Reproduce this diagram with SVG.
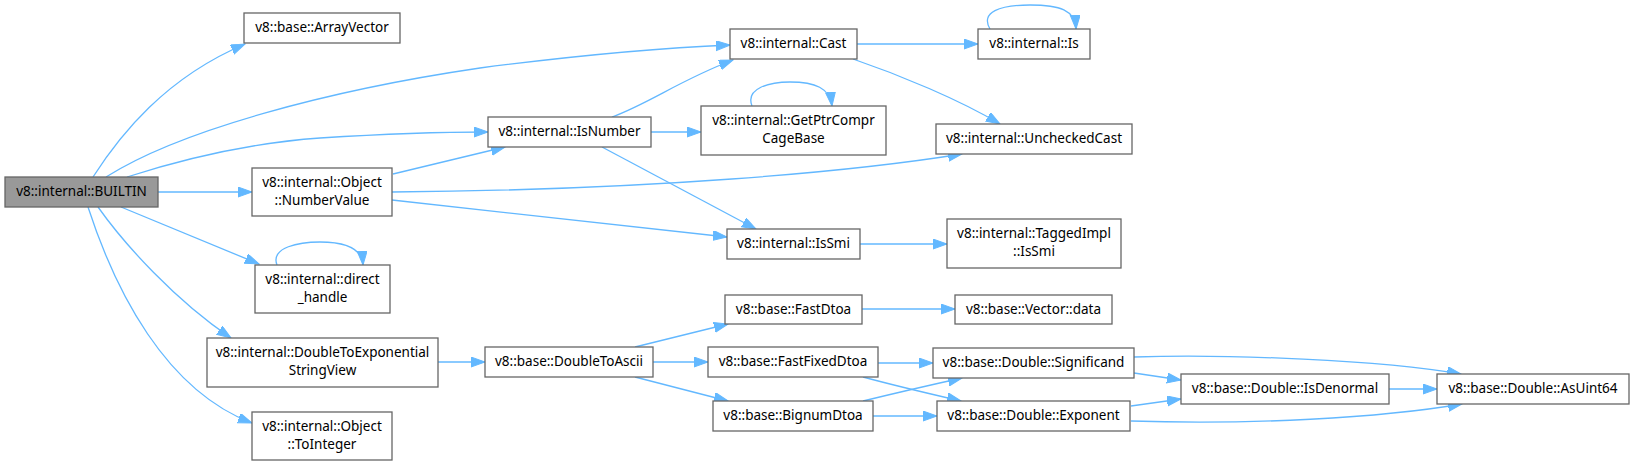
<svg xmlns="http://www.w3.org/2000/svg" width="1634" height="466" viewBox="0 0 1634 466">
<defs>
<marker id="ah" markerUnits="userSpaceOnUse" markerWidth="15" markerHeight="11" refX="14" refY="5" orient="auto">
<path d="M0,0 L14,5 L0,10 z" fill="#63b8ff" stroke="#63b8ff" stroke-width="1"/>
</marker>
</defs>
<style>
.n rect{fill:#ffffff;stroke:#666666;stroke-width:1.3}
.n.root rect{fill:#999999}
.n text{font-family:"Noto Sans","DejaVu Sans",sans-serif;font-size:13.5px;fill:#000000;text-anchor:middle}
.e path{fill:none;stroke:#63b8ff;stroke-width:1.3;marker-end:url(#ah)}
</style>
<rect width="1634" height="466" fill="#ffffff"/>
<g id="edges" class="e">
<path d="M93,177 C120,135 165,78 245,44"/>
<path d="M106,177 C180,130 330,90 480,68 C580,55 660,48 730,45"/>
<path d="M127,177 C180,160 250,143 320,138 C400,133 450,132 488,132"/>
<path d="M158,192 L252,192"/>
<path d="M121,207 L259,264"/>
<path d="M98,207 C125,245 175,300 231,338"/>
<path d="M88,207 C115,290 165,390 252,423"/>
<path d="M393,174 L505,147"/>
<path d="M392,192 C650,190 850,172 962,154"/>
<path d="M392,200 L727,237"/>
<path d="M612,117 C650,103 680,80 733,60"/>
<path d="M651,132 L701,132"/>
<path d="M602,147 L756,229"/>
<path d="M857,44 L978,44"/>
<path d="M853,59 C900,75 960,100 1000,124"/>
<path d="M990,29 C980,12 1000,5 1030,5 C1060,5 1075,10 1076,29"/>
<path d="M752,106 C745,88 770,82 790,82 C815,82 830,88 832,106"/>
<path d="M277,265 C270,247 300,242 320,242 C345,242 362,248 363,265"/>
<path d="M860,244 L947,244"/>
<path d="M438,362 L485,362"/>
<path d="M635,347 L728,324"/>
<path d="M653,362 L708,362"/>
<path d="M635,377 L728,401"/>
<path d="M862,309 L955,309"/>
<path d="M878,363 L933,363"/>
<path d="M863,377 C900,387 935,395 961,401"/>
<path d="M863,401 C900,392 935,384 962,378"/>
<path d="M873,416 L937,416"/>
<path d="M1134,373 L1181,380"/>
<path d="M1134,357 C1230,354 1380,360 1461,374"/>
<path d="M1389,389 L1437,389"/>
<path d="M1131,406 L1181,399"/>
<path d="M1131,421 C1250,425 1380,418 1462,404"/>
</g>
<g id="n_builtin" class="n root"><rect x="5" y="177" width="153" height="30"/><text x="81.5" y="196">v8::internal::BUILTIN</text></g>
<g id="n_arrayvector" class="n"><rect x="244" y="13" width="156" height="30"/><text x="322" y="32">v8::base::ArrayVector</text></g>
<g id="n_numbervalue" class="n"><rect x="252" y="168" width="140" height="48"/><text x="322" y="187">v8::internal::Object</text><text x="322" y="205">::NumberValue</text></g>
<g id="n_direct_handle" class="n"><rect x="255" y="265" width="135" height="48"/><text x="322.5" y="284">v8::internal::direct</text><text x="322.5" y="302">_handle</text></g>
<g id="n_dtoexp" class="n"><rect x="207" y="338" width="231" height="49"/><text x="322.5" y="357">v8::internal::DoubleToExponential</text><text x="322.5" y="375">StringView</text></g>
<g id="n_tointeger" class="n"><rect x="252" y="412" width="140" height="48"/><text x="322" y="431">v8::internal::Object</text><text x="322" y="449">::ToInteger</text></g>
<g id="n_cast" class="n"><rect x="730" y="29" width="127" height="30"/><text x="793.5" y="48">v8::internal::Cast</text></g>
<g id="n_isnumber" class="n"><rect x="488" y="117" width="163" height="30"/><text x="569.5" y="136">v8::internal::IsNumber</text></g>
<g id="n_getptr" class="n"><rect x="701" y="106" width="185" height="49"/><text x="793.5" y="125">v8::internal::GetPtrCompr</text><text x="793.5" y="143">CageBase</text></g>
<g id="n_issmi" class="n"><rect x="727" y="229" width="133" height="30"/><text x="793.5" y="248">v8::internal::IsSmi</text></g>
<g id="n_fastdtoa" class="n"><rect x="725" y="295" width="137" height="29"/><text x="793.5" y="314">v8::base::FastDtoa</text></g>
<g id="n_doubletoascii" class="n"><rect x="485" y="347" width="168" height="30"/><text x="569" y="366">v8::base::DoubleToAscii</text></g>
<g id="n_fastfixeddtoa" class="n"><rect x="708" y="347" width="170" height="30"/><text x="793" y="366">v8::base::FastFixedDtoa</text></g>
<g id="n_bignumdtoa" class="n"><rect x="713" y="401" width="160" height="30"/><text x="793" y="420">v8::base::BignumDtoa</text></g>
<g id="n_is" class="n"><rect x="978" y="29" width="112" height="30"/><text x="1034" y="48">v8::internal::Is</text></g>
<g id="n_uncheckedcast" class="n"><rect x="936" y="124" width="196" height="30"/><text x="1034" y="143">v8::internal::UncheckedCast</text></g>
<g id="n_taggedissmi" class="n"><rect x="947" y="219" width="174" height="49"/><text x="1034" y="238">v8::internal::TaggedImpl</text><text x="1034" y="256">::IsSmi</text></g>
<g id="n_vectordata" class="n"><rect x="955" y="295" width="157" height="29"/><text x="1033.5" y="314">v8::base::Vector::data</text></g>
<g id="n_significand" class="n"><rect x="933" y="348" width="201" height="30"/><text x="1033.5" y="367">v8::base::Double::Significand</text></g>
<g id="n_exponent" class="n"><rect x="937" y="401" width="193" height="30"/><text x="1033.5" y="420">v8::base::Double::Exponent</text></g>
<g id="n_isdenormal" class="n"><rect x="1181" y="374" width="208" height="30"/><text x="1285" y="393">v8::base::Double::IsDenormal</text></g>
<g id="n_asuint64" class="n"><rect x="1437" y="374" width="192" height="30"/><text x="1533" y="393">v8::base::Double::AsUint64</text></g>
</svg>
